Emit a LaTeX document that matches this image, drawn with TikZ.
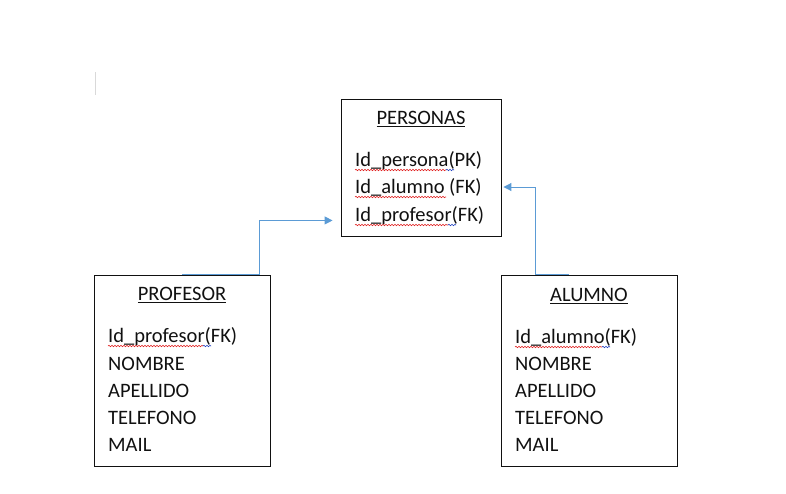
\documentclass[tikz,border=0pt]{standalone}
\usepackage{fontspec}
\setmainfont{Carlito}
\usetikzlibrary{arrows.meta,decorations.pathmorphing}
\definecolor{ink}{HTML}{111111}
\definecolor{link}{HTML}{5B9BD5}
\definecolor{spell}{HTML}{E02020}
\definecolor{gram}{HTML}{2040C0}
\tikzset{
  ent/.style={draw=ink, line width=0.9pt, rectangle, inner sep=0pt},
  ttl/.style={font=\fontsize{20.5}{24}\selectfont, text=ink, inner sep=0pt},
  att/.style={font=\fontsize{20.5}{24}\selectfont, text=ink, anchor=west,
              inner sep=0pt, text height=13pt, text depth=0pt},
  fk/.style={-{Triangle[length=8pt,width=8pt]}, line width=1pt, draw=link},
  squig/.style={draw=spell, line width=0.6pt, decorate,
                decoration={snake, amplitude=0.7pt, segment length=3pt}},
  gsquig/.style={squig, draw=gram},
}
\begin{document}
\begin{tikzpicture}[x=1pt, y=-1pt]
    \useasboundingbox (0,0) rectangle (786,493);
    \draw[black!15, line width=0.8pt] (95,72) -- (95,95);
    % tables
    \node[ent, minimum width=160pt, minimum height=137pt] (personas) at (421,167.5) {};
    \node[ent, minimum width=176pt, minimum height=191pt] (profesor) at (182,370.5) {};
    \node[ent, minimum width=176pt, minimum height=191pt] (alumno) at (589,370.5) {};
    % PERSONAS
    \node[ttl] (personasT) at (421,119) {\underline{PERSONAS}};
    \node[att] (pA) at (355,160) {Id\_persona(PK)};
    \node[att] (pB) at (355,187) {Id\_alumno (FK)};
    \node[att] (pC) at (355,215) {Id\_profesor(FK)};
    % PROFESOR
    \node[ttl] (profesorT) at (182,295) {\underline{PROFESOR}};
    \node[att] (fA) at (108,336) {Id\_profesor(FK)};
    \node[att] (fB) at (108,364) {NOMBRE};
    \node[att] (fC) at (108,391) {APELLIDO};
    \node[att] (fD) at (108,418) {TELEFONO};
    \node[att] (fE) at (108,445) {MAIL};
    % ALUMNO
    \node[ttl] (alumnoT) at (589,296) {\underline{ALUMNO}};
    \node[att] (aA) at (515,337) {Id\_alumno(FK)};
    \node[att] (aB) at (515,364) {NOMBRE};
    \node[att] (aC) at (515,391) {APELLIDO};
    \node[att] (aD) at (515,418) {TELEFONO};
    \node[att] (aE) at (515,445) {MAIL};
    % spell check marks
    \draw[squig] (355,170) -- (446,170);  \draw[gsquig] (446,170) -- (454,170);
    \draw[squig] (355,197) -- (446,197);
    \draw[squig] (355,225) -- (448,225);  \draw[gsquig] (448,225) -- (456,225);
    \draw[squig] (108,346) -- (203,346);  \draw[gsquig] (203,346) -- (211,346);
    \draw[squig] (515,347) -- (602,347);  \draw[gsquig] (602,347) -- (610,347);
    % links
    \draw[fk] (profesor.north) -- ++(77,0) |- ([shift={(-8pt,16pt)}]personas.south west);
    \draw[fk] ([xshift=-20pt]alumno.north) -- ++(-34,0) |- ([shift={(2pt,-19.5pt)}]personas.east);
  \end{tikzpicture}
\end{document}
